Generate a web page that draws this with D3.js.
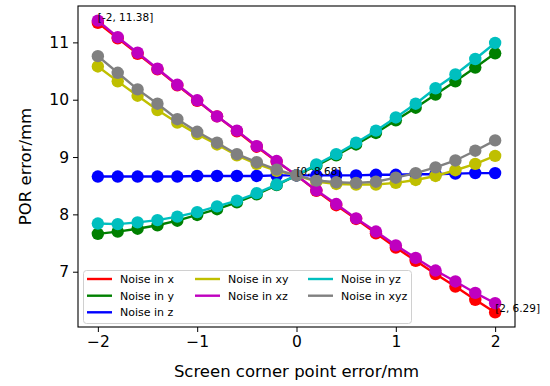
<!DOCTYPE html>
<html><head><meta charset="utf-8">
<script src="https://cdn.jsdelivr.net/npm/d3@7"></script>
<style>body{margin:0;background:#fff}svg{display:block;font-family:"DejaVu Sans",sans-serif}</style>
</head><body><svg id="c" width="550" height="386"></svg>
<script>
const xs = [-2,-1.8,-1.6,-1.4,-1.2,-1,-0.8,-0.6,-0.4,-0.2,0,0.2,0.4,0.6,0.8,1,1.2,1.4,1.6,1.8,2];
const noiseX   = [11.34,11.07,10.80,10.53,10.25,9.98,9.71,9.45,9.18,8.92,8.68,8.41,8.16,7.92,7.67,7.42,7.19,6.96,6.74,6.51,6.29];
const noiseY   = [7.66,7.70,7.75,7.81,7.89,7.99,8.09,8.21,8.35,8.51,8.68,8.85,9.03,9.22,9.42,9.64,9.86,10.09,10.32,10.56,10.81];
const noiseZ   = [8.66,8.66,8.66,8.66,8.66,8.67,8.67,8.67,8.67,8.68,8.68,8.68,8.68,8.68,8.69,8.69,8.70,8.70,8.71,8.72,8.72];
const noiseXY  = [10.58,10.32,10.07,9.82,9.60,9.40,9.22,9.03,8.88,8.76,8.68,8.57,8.53,8.52,8.52,8.55,8.60,8.67,8.77,8.88,9.02];
const noiseXZ  = [11.38,11.09,10.82,10.54,10.26,9.99,9.71,9.46,9.19,8.93,8.68,8.42,8.18,7.93,7.70,7.46,7.24,7.02,6.83,6.63,6.45];
const noiseYZ  = [7.84,7.83,7.86,7.90,7.96,8.04,8.14,8.24,8.37,8.52,8.68,8.87,9.05,9.25,9.46,9.69,9.93,10.20,10.44,10.71,10.99];
const noiseXYZ = [10.76,10.47,10.18,9.93,9.66,9.44,9.25,9.05,8.91,8.78,8.68,8.59,8.56,8.55,8.57,8.64,8.72,8.82,8.94,9.11,9.29];
const seriesNames = ["Noise in x","Noise in y","Noise in z","Noise in xy","Noise in xz","Noise in yz","Noise in xyz"];
const seriesColors = ["#ff0000","#008000","#0000ff","#bfbf00","#bf00bf","#00bfbf","#808080"];
const xTicks = [-2,-1,0,1,2];
const yTicks = [7,8,9,10,11];
const annotations = [[-2,11.38],[0,8.68],[2,6.29]];

const series = [noiseX,noiseY,noiseZ,noiseXY,noiseXZ,noiseYZ,noiseXYZ];
const svg = d3.select("#c");
const L=78, R=515, T=6, B=327;
const x = d3.scaleLinear().domain([-2.2,2.2]).range([L,R]);
const y = d3.scaleLinear().domain([6.0355,11.6345]).range([B,T]);

const line = d3.line().x((d,i)=>x(xs[i])).y(d=>y(d));
const g = svg.append("g");
series.forEach((s,k)=>{
  const sg = g.append("g");
  sg.append("path").attr("d",line(s)).attr("fill","none").attr("stroke",seriesColors[k]).attr("stroke-width",2.4);
  sg.selectAll("circle").data(s).join("circle").attr("cx",(d,i)=>x(xs[i])).attr("cy",d=>y(d)).attr("r",6.2).attr("fill",seriesColors[k]);
});

// annotations
annotations.forEach(a=>{
  svg.append("text").attr("x",x(a[0])).attr("y",y(a[1])).attr("font-size",10.5).attr("fill","#000").text(`[${a[0]}, ${a[1]}]`);
});

// axes
const xa = svg.append("g").attr("transform",`translate(0,${B})`).call(d3.axisBottom(x).tickValues(xTicks).tickSize(5).tickPadding(4).tickFormat(d3.format("d")));
const ya = svg.append("g").attr("transform",`translate(${L},0)`).call(d3.axisLeft(y).tickValues(yTicks).tickSize(5).tickPadding(4).tickFormat(d3.format("d")));
[xa,ya].forEach(a=>{a.select(".domain").remove();a.selectAll("text").attr("font-size",15.5).attr("font-family","DejaVu Sans").attr("fill","#000");a.selectAll("line").attr("stroke","#000");});

svg.append("rect").attr("x",L).attr("y",T).attr("width",R-L).attr("height",B-T).attr("fill","none").attr("stroke","#000").attr("stroke-width",1.1);

svg.append("text").attr("x",(L+R)/2).attr("y",377).attr("text-anchor","middle").attr("font-size",16.5).text("Screen corner point error/mm");
svg.append("text").attr("transform",`translate(31,${(T+B)/2}) rotate(-90)`).attr("text-anchor","middle").attr("font-size",16.5).text("POR error/mm");

// legend (column-major, 3 columns: 3,2,2)
const lg = svg.append("g");
lg.append("rect").attr("x",83.5).attr("y",270.5).attr("width",328).attr("height",53).attr("rx",3).attr("fill","#fff").attr("fill-opacity",0.8).attr("stroke","#d0d0d0");
const colX=[87,195,308], rowY=[279,295.7,312.3];
const place=[[0,0],[0,1],[0,2],[1,0],[1,1],[2,0],[2,1]];
seriesNames.forEach((n,k)=>{
  const c=place[k][0], r=place[k][1];
  lg.append("line").attr("x1",colX[c]).attr("x2",colX[c]+25).attr("y1",rowY[r]).attr("y2",rowY[r]).attr("stroke",seriesColors[k]).attr("stroke-width",2.4);
  lg.append("text").attr("x",colX[c]+33).attr("y",rowY[r]+4).attr("font-size",11).text(n);
});
</script></body></html>
